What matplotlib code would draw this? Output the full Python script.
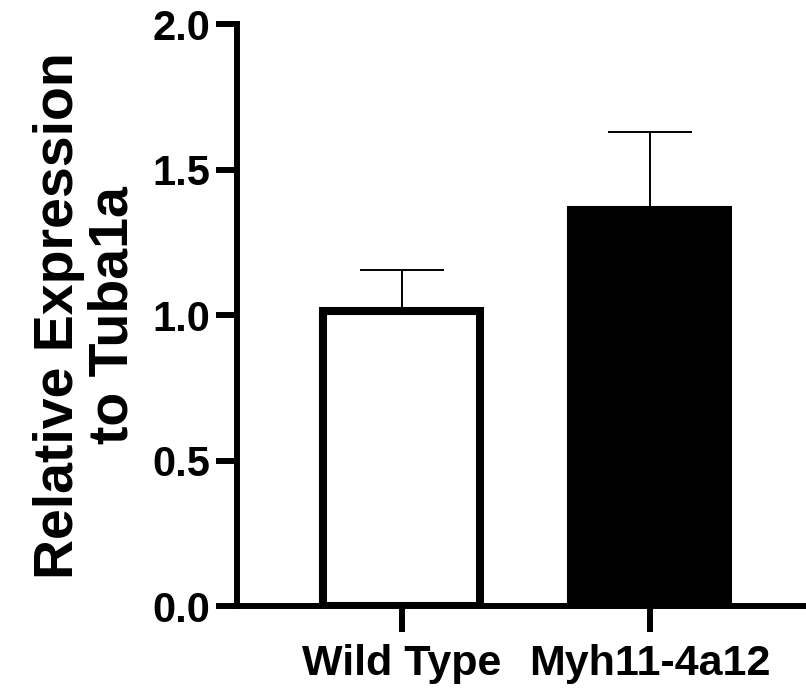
import matplotlib.pyplot as plt

groups = ["Wild Type", "Myh11-4a12"]
means = [1.015, 1.36]
sems = [0.14, 0.27]
fills = ["white", "black"]

plt.rcParams['font.family'] = ['Liberation Sans', 'DejaVu Sans']
plt.rcParams['font.weight'] = 'bold'

fig = plt.figure(figsize=(8.06, 6.88), dpi=100)
ax = fig.add_axes([0.294, 0.119, 0.706, 0.846])

x = [0, 1]
# error bars first so the bars cover the lower half
ax.errorbar(x, means, yerr=[[0, 0], sems], fmt='none', ecolor='black',
            elinewidth=1.4, capsize=30, capthick=1.4, zorder=1)
ax.bar(x, means, width=0.633, color=fills, edgecolor='black', linewidth=5.8, zorder=2)

ax.set_xlim(-0.665, 1.629)
ax.set_ylim(0, 2.0)
ax.set_yticks([0.0, 0.5, 1.0, 1.5, 2.0])
ax.set_yticklabels(["0.0", "0.5", "1.0", "1.5", "2.0"])
ax.set_xticks(x)
ax.set_xticklabels(groups)

for s in ['top', 'right']:
    ax.spines[s].set_visible(False)
for s in ['left', 'bottom']:
    ax.spines[s].set_linewidth(4.3)

ax.tick_params(axis='y', length=15, width=4.3, labelsize=30, pad=4)
ax.tick_params(axis='x', length=19, width=4.3, labelsize=31, pad=8)
for lab in ax.get_xticklabels() + ax.get_yticklabels():
    lab.set_fontweight('bold')

ax.set_ylabel("Relative Expression\nto Tuba1a", fontsize=40, fontweight='bold',
              linespacing=1.07, va='center')
ax.yaxis.set_label_coords(-0.265, 0.5)

fig.savefig("out.png", dpi=100)
